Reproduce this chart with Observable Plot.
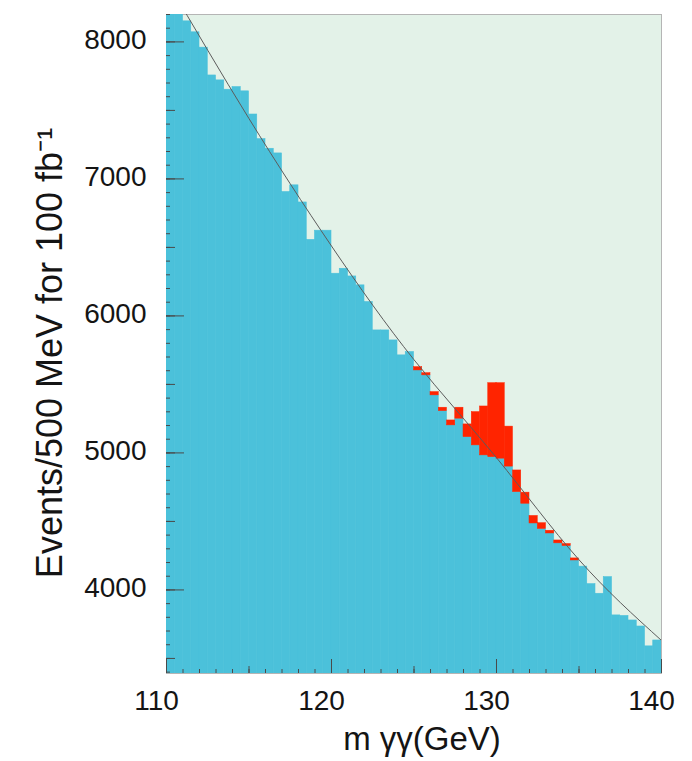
<!DOCTYPE html>
<html>
<head>
<meta charset="utf-8">
<script src="https://cdn.jsdelivr.net/npm/d3@7"></script>
<script src="https://cdn.jsdelivr.net/npm/@observablehq/plot@0.6"></script>
<style>
  html, body { margin: 0; padding: 0; background: #ffffff; }
  #chart { width: 692px; height: 761px; }
</style>
</head>
<body>
<div id="chart"></div>
<script>
// ---- Data ----
// 500 MeV bins from 110 to 140 GeV (60 bins); value = background events per bin
const binStart = 110;
const binWidth = 0.5;
const background = [
  8300, 8250, 8150, 8070, 7958, 7755, 7719, 7651, 7670, 7639,
  7470, 7290, 7220, 7186, 6904, 6953, 6828, 6555, 6622, 6622,
  6308, 6344, 6288, 6223, 6101, 5894, 5894, 5821, 5712, 5736,
  5602, 5566, 5420, 5305, 5201, 5250, 5115, 5055, 4982, 4969,
  4958, 4900, 4714, 4629, 4485, 4445, 4412, 4340, 4320, 4215,
  4170, 4042, 3972, 4093, 3814, 3810, 3777, 3733, 3588, 3631
];
// signal events stacked on top of the background (red)
const signal = [
  0, 0, 0, 0, 0, 0, 0, 0, 0, 0,
  0, 0, 0, 0, 0, 0, 0, 0, 0, 0,
  0, 0, 0, 0, 0, 0, 0, 0, 0, 0,
  24, 16, 24, 25, 36, 80, 93, 243, 357, 540,
  551, 292, 158, 81, 55, 42, 20, 21, 15, 15,
  0, 0, 0, 0, 0, 0, 0, 0, 0, 0
];
// smooth background fit
const fitMass   = [110, 115, 120, 125, 130, 135, 140];
const fitEvents = [8450, 7440, 6510, 5680, 4965, 4220, 3631];

const xTickLabels = [110, 120, 130, 140];
const yTickLabels = [4000, 5000, 6000, 7000, 8000];
const xTitle = "m γγ(GeV)";
const yTitle = "Events/500 MeV for 100 fb⁻¹";

// ---- Tables for the library ----
const bins = background.map((bg, i) => ({
  lo: binStart + i * binWidth,
  hi: binStart + (i + 1) * binWidth,
  bg,
  sig: signal[i]
}));
const fit = fitMass.map((m, i) => ({ m, n: fitEvents[i] }));

const blue = "#4bc1da";
const red = "#ff2400";
const tickColor = "#4a4a4a";
const plain = d => String(d);

const chart = Plot.plot({
  width: 692,
  height: 761,
  marginLeft: 166,
  marginRight: 31,
  marginTop: 14,
  marginBottom: 88,
  x: { domain: [110, 140] },
  y: { domain: [3390, 8200] },
  style: {
    fontFamily: "'Liberation Sans', Arial, Helvetica, sans-serif",
    fontSize: "28px",
    color: "#141414",
    background: "#ffffff"
  },
  marks: [
    Plot.frame({ fill: "#e3f2e8", stroke: "#b5b5b5" }),
    Plot.rect(bins, {
      x1: "lo", x2: "hi", y1: 0, y2: "bg",
      fill: blue, stroke: blue, strokeWidth: 0.6, inset: 0, clip: true
    }),
    Plot.rect(bins.filter(d => d.sig > 0), {
      x1: "lo", x2: "hi", y1: "bg", y2: d => d.bg + d.sig,
      fill: red, stroke: red, strokeWidth: 0.5, inset: 0, clip: true
    }),
    Plot.line(fit, {
      x: "m", y: "n", curve: "natural",
      stroke: "#5c5c5c", strokeWidth: 1, clip: true
    }),
    // inward ticks, y
    Plot.axisY(d3.range(3400, 8201, 100), { anchor: "left", tickSize: 4, dx: 4, fill: "none", stroke: tickColor, label: null }),
    Plot.axisY(d3.range(3500, 8201, 500), { anchor: "left", tickSize: 9, dx: 9, fill: "none", stroke: tickColor, label: null }),
    Plot.axisY(yTickLabels, { anchor: "left", tickSize: 18, dx: 18, fill: "none", stroke: tickColor, label: null }),
    // inward ticks, x
    Plot.axisX(d3.range(110, 141, 1), { anchor: "bottom", tickSize: 4, dy: -4, fill: "none", stroke: tickColor, label: null }),
    Plot.axisX(d3.range(110, 141, 5), { anchor: "bottom", tickSize: 7, dy: -7, fill: "none", stroke: tickColor, label: null }),
    Plot.axisX(xTickLabels, { anchor: "bottom", tickSize: 14, dy: -14, fill: "none", stroke: tickColor, label: null }),
    // tick labels
    Plot.axisY(yTickLabels, { anchor: "left", tickSize: 0, tickPadding: 20, dy: -2, tickFormat: plain, label: null }),
    Plot.axisX(xTickLabels, { anchor: "bottom", tickSize: 0, tickPadding: 17, dx: -10, tickFormat: plain, label: null }),
    // titles
    Plot.text([yTitle], {
      text: d => d, frameAnchor: "left", rotate: -90,
      dx: -116, dy: 9, fontSize: 36, textAnchor: "middle", lineAnchor: "middle", fill: "#141414"
    }),
    Plot.text([xTitle], {
      text: d => d, frameAnchor: "bottom",
      dx: 8, dy: 66, fontSize: 33, textAnchor: "middle", lineAnchor: "middle", fill: "#141414"
    })
  ]
});

document.getElementById("chart").appendChild(chart);
</script>
</body>
</html>
